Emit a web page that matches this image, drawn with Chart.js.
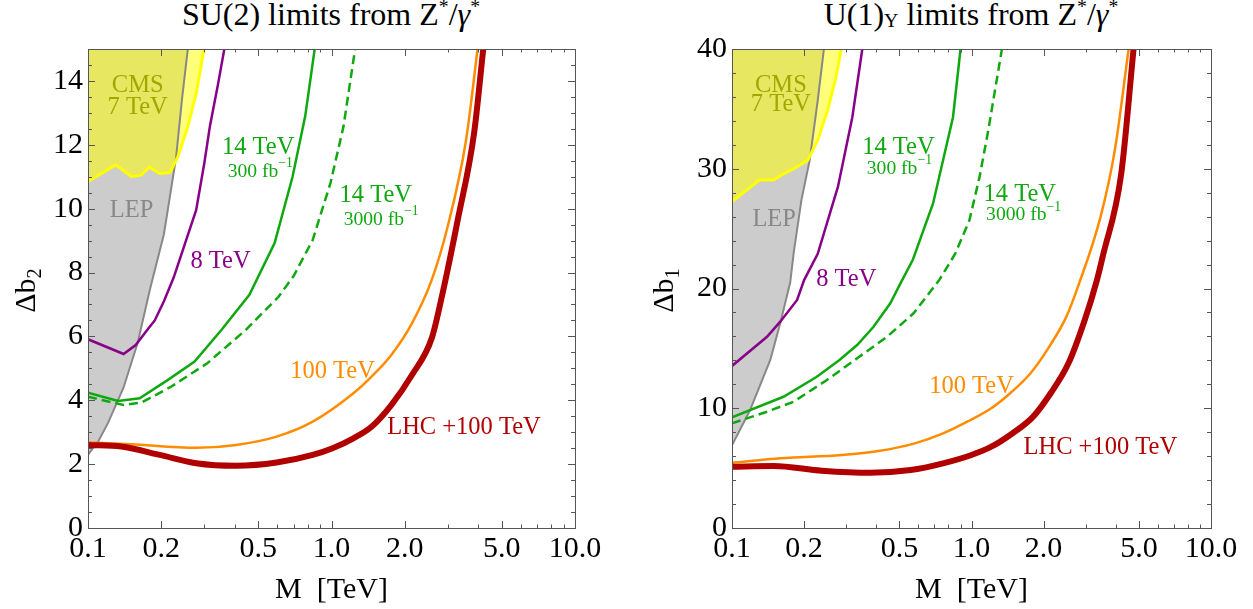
<!DOCTYPE html>
<html>
<head>
<meta charset="utf-8">
<script src="https://cdn.jsdelivr.net/npm/chart.js@4.4.0/dist/chart.umd.min.js"></script>
<style>
    body { margin: 0; background: #fff; width: 1253px; height: 609px; position: relative; overflow: hidden; font-family: "Liberation Serif", serif; }
    canvas { position: absolute; top: 0; }
    #su2Chart { left: 0; }
    #u1Chart { left: 620px; }
    .title { position: absolute; top: -4px; font-size: 32px; white-space: nowrap; transform: translateX(-50%); color: #000; }
    .title sup { font-size: 62%; vertical-align: 0.62em; line-height: 0; }
    .title sub { font-size: 62%; vertical-align: -0.12em; line-height: 0; }
</style>
</head>
<body>
<div class="title" style="left:331px">SU(2) limits from Z<sup>*</sup>/<i>γ</i><sup>*</sup></div>
<div class="title" style="left:971px">U(1)<sub>Y</sub> limits from Z<sup>*</sup>/<i>γ</i><sup>*</sup></div>
<canvas id="su2Chart" width="620" height="609"></canvas>
<canvas id="u1Chart" width="633" height="609"></canvas>
<script>
// Shared x axis (log, TeV)
const xTickValues = [0.1, 0.2, 0.5, 1, 2, 5, 10];
const xTickLabels = ['0.1', '0.2', '0.5', '1.0', '2.0', '5.0', '10.0'];
const xMinorValues = [0.3, 0.4, 0.6, 0.7, 0.8, 0.9, 3, 4, 6, 7, 8, 9];

// SU(2) panel
const su2YTicks = [0, 2, 4, 6, 8, 10, 12, 14];
const su2LepM = [0.1, 0.11, 0.121, 0.14, 0.16, 0.18, 0.205, 0.23, 0.243, 0.257];
const su2LepB = [2.3, 2.7, 3.3, 4.4, 5.8, 7.5, 9.2, 11.6, 13.4, 15];
const su2CmsM = [0.1, 0.13, 0.151, 0.165, 0.179, 0.197, 0.217, 0.234, 0.257, 0.278, 0.2995];
const su2CmsB = [10.85, 11.37, 11.0, 11.05, 11.3, 11.1, 11.13, 11.63, 12.57, 13.6, 15];
const su2Lhc8M = [0.1, 0.14, 0.157, 0.175, 0.188, 0.205, 0.225, 0.25, 0.278, 0.3, 0.317, 0.342, 0.363];
const su2Lhc8B = [5.91, 5.45, 5.73, 6.2, 6.5, 7.1, 7.85, 8.9, 9.95, 11.4, 12.6, 13.9, 15];
const su2Lhc14M = [0.1, 0.133, 0.163, 0.213, 0.274, 0.353, 0.46, 0.584, 0.692, 0.78, 0.853];
const su2Lhc14B = [4.24, 3.98, 4.06, 4.64, 5.21, 6.2, 7.3, 8.92, 11.0, 12.9, 15];
const su2Hl14M = [0.1, 0.14, 0.166, 0.22, 0.309, 0.444, 0.606, 0.7, 0.837, 0.99, 1.12, 1.25];
const su2Hl14B = [4.11, 3.85, 3.93, 4.43, 5.16, 6.2, 7.24, 7.9, 9.02, 10.8, 12.57, 15];
const su2Fcc100M = [0.1, 0.15, 0.278, 0.406, 0.595, 0.837, 1.23, 1.46, 1.76, 2.14, 2.58, 3.0, 3.57, 3.98];
const su2Fcc100B = [2.68, 2.62, 2.51, 2.6, 2.86, 3.33, 4.22, 4.74, 5.42, 6.41, 7.77, 9.44, 12.15, 15];
const su2CombM = [0.1, 0.137, 0.197, 0.278, 0.406, 0.595, 0.837, 1.01, 1.23, 1.46, 1.76, 2.14, 2.58, 2.83, 3.3, 3.85, 4.2];
const su2CombB = [2.6, 2.55, 2.29, 2.03, 1.95, 2.05, 2.29, 2.5, 2.81, 3.17, 3.85, 4.79, 5.94, 7.2, 9.65, 12.36, 15];

// U(1)_Y panel
const u1YTicks = [0, 10, 20, 30, 40];
const u1LepM = [0.1, 0.119, 0.1445, 0.159, 0.175, 0.181, 0.195, 0.211, 0.228, 0.242];
const u1LepB = [6.9, 9.85, 14.03, 17.1, 20.5, 23.0, 27.4, 30.7, 35.7, 40];
const u1CmsM = [0.1, 0.13, 0.149, 0.165, 0.181, 0.207, 0.228, 0.251, 0.272, 0.286];
const u1CmsB = [27.25, 29.06, 29.06, 29.6, 30.0, 30.7, 32.4, 34.9, 37.7, 40];
const u1Lhc8M = [0.1, 0.14, 0.159, 0.187, 0.2, 0.228, 0.277, 0.318, 0.35];
const u1Lhc8B = [13.53, 15.97, 17.23, 19.04, 20.7, 22.9, 28.5, 34.3, 40];
const u1Lhc14M = [0.1, 0.164, 0.226, 0.281, 0.333, 0.39, 0.458, 0.505, 0.569, 0.691, 0.837, 0.9];
const u1Lhc14B = [9.24, 10.96, 12.63, 14.03, 15.28, 16.8, 18.76, 20.43, 22.4, 27.1, 34.3, 40];
const u1Hl14M = [0.1, 0.14, 0.181, 0.249, 0.333, 0.444, 0.573, 0.733, 0.855, 0.98, 1.08, 1.17, 1.34];
const u1Hl14B = [8.74, 9.71, 10.55, 12.36, 14.17, 15.97, 17.93, 20.7, 22.9, 25.7, 29.3, 33.0, 40];
const u1Fcc100M = [0.1, 0.16, 0.288, 0.409, 0.58, 0.761, 0.96, 1.21, 1.45, 1.76, 2.09, 2.49, 2.8, 3.46, 3.97, 4.53];
const u1Fcc100B = [5.45, 5.82, 6.1, 6.43, 7.07, 7.9, 8.88, 10.0, 11.25, 12.9, 15.0, 17.65, 20.3, 26.0, 31.6, 40];
const u1CombM = [0.1, 0.149, 0.237, 0.378, 0.557, 0.761, 1.0, 1.21, 1.45, 1.81, 2.14, 2.54, 2.97, 3.34, 3.53, 4.22, 4.75];
const u1CombB = [5.12, 5.18, 4.79, 4.62, 4.84, 5.4, 6.1, 6.79, 7.77, 9.3, 11.25, 13.75, 17.37, 20.7, 22.66, 29.6, 40];

const FONT = '"Liberation Serif", "DejaVu Serif", serif';
const COLORS = {
    lepFill: '#cccccc', lep: '#888888',
    cmsFill: 'rgba(255, 255, 0, 0.52)', cms: '#ffff00', cmsText: '#a6a600',
    lhc8: '#880088', lhc14: '#10a810', fcc: '#ff8c00', comb: '#b00000'
};

function pts(m, b) {
    return m.map((v, i) => ({ x: v, y: b[i] }));
}

// draws a run of text pieces, some of them raised or lowered
function drawRich(ctx, parts, x, y, size, align) {
    const widths = parts.map(p => {
        ctx.font = `${size * (p.scale || 1)}px ${FONT}`;
        return ctx.measureText(p.t).width;
    });
    const total = widths.reduce((a, b) => a + b, 0);
    let cx = align === 'left' ? x : x - total / 2;
    ctx.textAlign = 'left';
    ctx.textBaseline = 'alphabetic';
    parts.forEach((p, i) => {
        ctx.font = `${size * (p.scale || 1)}px ${FONT}`;
        ctx.fillText(p.t, cx, y + (p.dy || 0) * size);
        cx += widths[i];
    });
}

const decor = {
    id: 'decor',
    afterDatasetsDraw(chart, args, opts) {
        const { ctx, chartArea: a, scales: { x, y } } = chart;
        ctx.save();

        // annotation labels
        opts.labels.forEach(l => {
            ctx.fillStyle = l.color;
            drawRich(ctx, l.parts, x.getPixelForValue(l.x), y.getPixelForValue(l.y), 24.5, 'center');
        });

        // frame
        ctx.strokeStyle = '#555';
        ctx.lineWidth = 1;
        ctx.strokeRect(Math.round(a.left) + 0.5, Math.round(a.top) + 0.5, Math.round(a.right - a.left), Math.round(a.bottom - a.top));

        // inward ticks on all four sides
        const xTick = (v, len) => {
            const px = Math.round(x.getPixelForValue(v)) + 0.5;
            ctx.beginPath();
            ctx.moveTo(px, a.bottom); ctx.lineTo(px, a.bottom - len);
            ctx.moveTo(px, a.top); ctx.lineTo(px, a.top + len);
            ctx.stroke();
        };
        const yTick = (v, len) => {
            const py = Math.round(y.getPixelForValue(v)) + 0.5;
            ctx.beginPath();
            ctx.moveTo(a.left, py); ctx.lineTo(a.left + len, py);
            ctx.moveTo(a.right, py); ctx.lineTo(a.right - len, py);
            ctx.stroke();
        };
        xTickValues.forEach(v => xTick(v, 7));
        xMinorValues.forEach(v => xTick(v, 3.5));
        for (let v = 0; v <= y.max + 1e-9; v += opts.yMinor) {
            const major = Math.abs(v / opts.yMajor - Math.round(v / opts.yMajor)) < 1e-6;
            yTick(v, major ? 7 : 4);
        }

        // axis titles
        ctx.fillStyle = '#000';
        drawRich(ctx, [{ t: 'M  [TeV]' }], (a.left + a.right) / 2, 598, 30, 'center');
        ctx.translate(opts.yTitleX, (a.top + a.bottom) / 2 + 2);
        ctx.rotate(-Math.PI / 2);
        drawRich(ctx, [{ t: 'Δb' }, { t: opts.yTitleSub, scale: 0.68, dy: 0.2 }], 0, 0, 30, 'center');
        ctx.restore();
    }
};

function lineSet(data, color, width, extra) {
    return Object.assign({
        data: data, borderColor: color, borderWidth: width, pointRadius: 0,
        fill: false, tension: 0, order: 1
    }, extra || {});
}

function makeChart(id, p) {
    const ctx = document.getElementById(id);
    return new Chart(ctx, {
        type: 'line',
        data: {
            datasets: [
                { data: p.lep, borderWidth: 0, pointRadius: 0, fill: 'end', backgroundColor: COLORS.lepFill, order: 10 },
                { data: p.cms, borderWidth: 0, pointRadius: 0, fill: 'end', backgroundColor: COLORS.cmsFill, order: 9 },
                lineSet(p.lep, COLORS.lep, 2, { order: 8 }),
                lineSet(p.cms, COLORS.cms, 3, { order: 7 }),
                lineSet(p.lhc8, COLORS.lhc8, 2.5),
                lineSet(p.lhc14, COLORS.lhc14, 2.5),
                lineSet(p.hl14, COLORS.lhc14, 2.5, { borderDash: [9, 5] }),
                lineSet(p.fcc, COLORS.fcc, 2.5, { cubicInterpolationMode: 'monotone' }),
                lineSet(p.comb, COLORS.comb, 6, { cubicInterpolationMode: 'monotone', order: 0 })
            ]
        },
        options: {
            responsive: false,
            animation: false,
            events: [],
            layout: { padding: { left: 0, right: p.rightPad, top: 49, bottom: 0 } },
            plugins: {
                legend: { display: false },
                tooltip: { enabled: false },
                decor: { labels: p.labels, yMinor: p.yMinor, yMajor: p.yMajor, yTitleSub: p.yTitleSub, yTitleX: p.yTitleX }
            },
            scales: {
                x: {
                    type: 'logarithmic', min: 0.1, max: 10,
                    grid: { display: false, drawTicks: false },
                    border: { display: false },
                    afterBuildTicks: s => { s.ticks = xTickValues.map(v => ({ value: v })); },
                    afterFit: s => { s.height = 81; },
                    ticks: {
                        autoSkip: false, maxRotation: 0, padding: 3, color: '#000',
                        font: { family: FONT, size: 30 },
                        callback: (v, i) => xTickLabels[i]
                    }
                },
                y: {
                    type: 'linear', min: 0, max: p.yMax,
                    grid: { display: false, drawTicks: false },
                    border: { display: false },
                    afterBuildTicks: s => { s.ticks = p.yTicks.map(v => ({ value: v })); },
                    afterFit: s => { s.width = p.leftW; },
                    ticks: {
                        padding: 5, color: '#000',
                        font: { family: FONT, size: 30 },
                        callback: v => String(v)
                    }
                }
            }
        },
        plugins: [decor]
    });
}

const fb300 = [{ t: '300 fb', scale: 0.8 }, { t: '−1', scale: 0.56, dy: -0.38 }];
const fb3000 = [{ t: '3000 fb', scale: 0.8 }, { t: '−1', scale: 0.56, dy: -0.38 }];

makeChart('su2Chart', {
    lep: pts(su2LepM, su2LepB), cms: pts(su2CmsM, su2CmsB),
    lhc8: pts(su2Lhc8M, su2Lhc8B), lhc14: pts(su2Lhc14M, su2Lhc14B), hl14: pts(su2Hl14M, su2Hl14B),
    fcc: pts(su2Fcc100M, su2Fcc100B), comb: pts(su2CombM, su2CombB),
    yMax: 15, yTicks: su2YTicks, yMajor: 2, yMinor: 0.5,
    leftW: 88, rightPad: 45, yTitleSub: '2', yTitleX: 35,
    labels: [
        { parts: [{ t: 'CMS' }], x: 0.16, y: 13.65, color: COLORS.cmsText },
        { parts: [{ t: '7 TeV' }], x: 0.16, y: 12.95, color: COLORS.cmsText },
        { parts: [{ t: 'LEP' }], x: 0.151, y: 9.75, color: COLORS.lep },
        { parts: [{ t: '8 TeV' }], x: 0.35, y: 8.15, color: COLORS.lhc8 },
        { parts: [{ t: '14 TeV' }], x: 0.5, y: 11.7, color: COLORS.lhc14 },
        { parts: fb300, x: 0.51, y: 11.0, color: COLORS.lhc14 },
        { parts: [{ t: '14 TeV' }], x: 1.52, y: 10.2, color: COLORS.lhc14 },
        { parts: fb3000, x: 1.6, y: 9.5, color: COLORS.lhc14 },
        { parts: [{ t: '100 TeV' }], x: 1.01, y: 4.7, color: COLORS.fcc },
        { parts: [{ t: 'LHC +100 TeV' }], x: 3.5, y: 2.93, color: COLORS.comb }
    ]
});

makeChart('u1Chart', {
    lep: pts(u1LepM, u1LepB), cms: pts(u1CmsM, u1CmsB),
    lhc8: pts(u1Lhc8M, u1Lhc8B), lhc14: pts(u1Lhc14M, u1Lhc14B), hl14: pts(u1Hl14M, u1Hl14B),
    fcc: pts(u1Fcc100M, u1Fcc100B), comb: pts(u1CombM, u1CombB),
    yMax: 40, yTicks: u1YTicks, yMajor: 10, yMinor: 2,
    leftW: 112, rightPad: 42, yTitleSub: '1', yTitleX: 53,
    labels: [
        { parts: [{ t: 'CMS' }], x: 0.16, y: 36.4, color: COLORS.cmsText },
        { parts: [{ t: '7 TeV' }], x: 0.16, y: 34.8, color: COLORS.cmsText },
        { parts: [{ t: 'LEP' }], x: 0.15, y: 25.2, color: COLORS.lep },
        { parts: [{ t: '8 TeV' }], x: 0.3, y: 20.2, color: COLORS.lhc8 },
        { parts: [{ t: '14 TeV' }], x: 0.495, y: 31.2, color: COLORS.lhc14 },
        { parts: fb300, x: 0.5, y: 29.6, color: COLORS.lhc14 },
        { parts: [{ t: '14 TeV' }], x: 1.59, y: 27.3, color: COLORS.lhc14 },
        { parts: fb3000, x: 1.65, y: 25.7, color: COLORS.lhc14 },
        { parts: [{ t: '100 TeV' }], x: 1.0, y: 11.3, color: COLORS.fcc },
        { parts: [{ t: 'LHC +100 TeV' }], x: 3.45, y: 6.15, color: COLORS.comb }
    ]
});
</script>
</body>
</html>
